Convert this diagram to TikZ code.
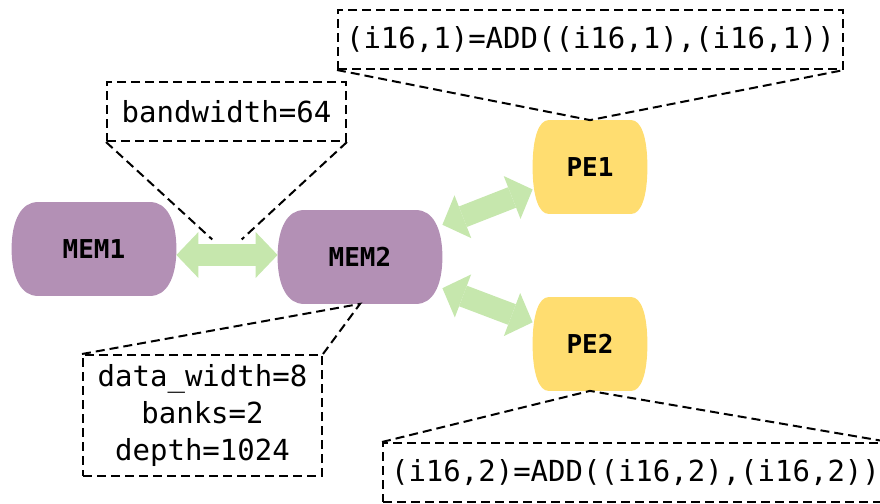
\documentclass[tikz,border=0pt]{standalone}
\usepackage{fontspec}
\setmonofont{DejaVu Sans Mono}
\usepackage{tikz}
\usetikzlibrary{shapes, arrows.meta, calc}

\definecolor{memfill}{HTML}{B390B5}
\definecolor{pefill}{HTML}{FFDD70}
\definecolor{linkgreen}{HTML}{C6E7AD}

\pgfdeclarelayer{background}
\pgfsetlayers{background,main}

\newcommand\unitbody[3]{%
    \begin{pgfonlayer}{background}
        \fill[#2]
            ($(#1.north west)+(#3,0)$) -- ($(#1.north east)+(-#3,0)$)
            .. controls ($(#1.north east)+(-0.4*#3,0)$) and ($(#1.east)+(0,15pt)$) .. (#1.east)
            .. controls ($(#1.east)+(0,-15pt)$) and ($(#1.south east)+(-0.4*#3,0)$) .. ($(#1.south east)+(-#3,0)$)
            -- ($(#1.south west)+(#3,0)$)
            .. controls ($(#1.south west)+(0.4*#3,0)$) and ($(#1.west)+(0,-15pt)$) .. (#1.west)
            .. controls ($(#1.west)+(0,15pt)$) and ($(#1.north west)+(0.4*#3,0)$) .. ($(#1.north west)+(#3,0)$)
            -- cycle;
    \end{pgfonlayer}}

\tikzset{
    unitbox/.style={shape=rectangle,
                    minimum height=46.5pt,
                    inner sep=0pt,
                    font=\ttfamily\bfseries\fontsize{13}{15}\selectfont},
    memunit/.style={unitbox, minimum width=82pt},
    peunit/.style={unitbox, minimum width=57pt},
    link/.style={draw=linkgreen, line width=11pt,
                 {Triangle[length=11pt,width=23pt,line width=0pt 0 0]}-{Triangle[length=11pt,width=23pt,line width=0pt 0 0]}},
    attrbox/.style={draw, dash pattern=on 4.5pt off 2.5pt, line width=1pt,
                    inner sep=0pt, align=center,
                    font=\ttfamily\fontsize{14.5}{18.5}\selectfont},
    noteline/.style={draw, dash pattern=on 4.5pt off 2.5pt, line width=1pt}
}

\begin{document}
\begin{tikzpicture}[x=0.5pt, y=-0.5pt]
    \useasboundingbox (0,0) rectangle (880,504);

    \node (mem1) [memunit] at (94,249) {MEM1};
    \node (mem2) [memunit] at (360,257) {MEM2};
    \node (pe1) [peunit] at (590,167) {PE1};
    \node (pe2) [peunit] at (590,344) {PE2};
    \unitbody{mem1}{memfill}{13pt}
    \unitbody{mem2}{memfill}{13pt}
    \unitbody{pe1}{pefill}{8pt}
    \unitbody{pe2}{pefill}{8pt}

    \draw [link] ([yshift=-3pt]mem1.east) -- ([yshift=-3pt]mem1.east -| mem2.west);
    \draw [link] (mem2) -- (pe1);
    \draw [link] (mem2) -- (pe2);

    \node (bw) [attrbox,
                minimum width=119.5pt,
                minimum height=29.5pt] at (226.5,111.5) {bandwidth=64};
    \node (mem2attr) [attrbox,
                      minimum width=119.5pt,
                      minimum height=60.5pt] at (202.5,415.5) {data\_width=8\\banks=2\\depth=1024};
    \node (pe1op) [attrbox,
                   minimum width=252.5pt,
                   minimum height=29.5pt] at (590.5,39.5) {(i16,1)=ADD((i16,1),(i16,1))};
    \node (pe2op) [attrbox,
                   minimum width=252.5pt,
                   minimum height=29.5pt] at (635.5,472.5) {(i16,2)=ADD((i16,2),(i16,2))};

    \coordinate (linkmid) at ($(mem1)!0.5!(mem2)$);
    \draw [noteline, shorten >=10pt] (bw.south west) -- (linkmid);
    \draw [noteline, shorten >=10pt] (bw.south east) -- (linkmid);
    \draw [noteline] (mem2attr.north west) -- (mem2.south) -- (mem2attr.north east);
    \draw [noteline] (pe1op.south west) -- (pe1.north) -- (pe1op.south east);
    \draw [noteline] (pe2op.north west) -- (pe2.south) -- (pe2op.north east);
\end{tikzpicture}
\end{document}
